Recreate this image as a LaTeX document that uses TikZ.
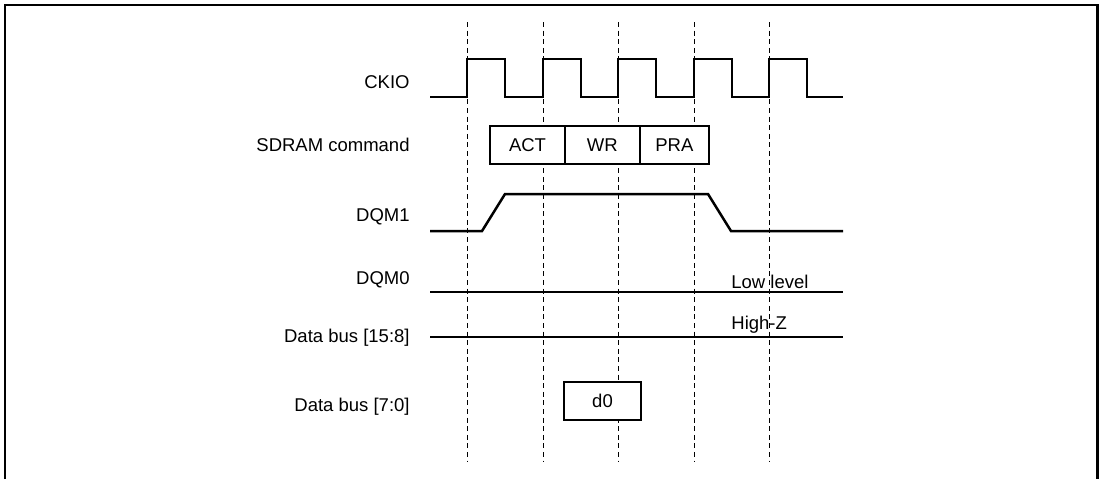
\documentclass[tikz,border=0pt]{standalone}
\usepackage{fontspec}
\setmainfont{Liberation Sans}
\usetikzlibrary{positioning}
\begin{document}
\begin{tikzpicture}[x=.5pt,y=-.5pt,font=\fontsize{9.25}{11}\selectfont,
sig/.style={line width=1.25pt},grid/.style={line width=.5pt,dash pattern=on 2.5pt off 1.8pt},
cmd/.style={draw,fill=white,line width=1.1pt,outer sep=0pt,inner sep=0pt,minimum height=19pt},lbl/.style={anchor=east,inner sep=0pt}]
\useasboundingbox(0,0)rectangle(1102,479);
\draw[line width=1.4pt](5,479)--(5,5)--(1097.5,5)--(1097.5,479);
\foreach\x in{467,543,618,694,769}\draw[grid](\x,22)--(\x,462);
\node[lbl](ckio)at(410,82){CKIO};\node[lbl](cmdl)at(410,145){SDRAM command};\node[lbl](dqmh)at(410,217){DQM1};
\node[lbl](dqml)at(410,280){DQM0};\node[lbl](dbh)at(410,338){Data bus [15:8]};\node[lbl](dbl)at(410,407){Data bus [7:0]};
\draw[sig](430,97)foreach\x in{467,543,618,694,769}{--(\x,97)--(\x,59)--(\x+38,59)--(\x+38,97)}--(843,97);
\node[cmd,minimum width=37.2pt](act)at(527.5,145){ACT};\node[cmd,minimum width=37.6pt,anchor=west](wr)at(act.east){WR};
\node[cmd,minimum width=34.5pt,anchor=west](pra)at(wr.east){PRA};
\draw[sig](430,231)--(482,231)--(505,194)--(708,194)--(731,231)--(843,231);
\draw[sig](430,292)--(843,292);\node[anchor=base west,inner sep=0pt](low)at(731,288){Low level};
\draw[sig](430,337)--(843,337);\node[anchor=base west,inner sep=0pt](hiz)at(731,329){High-Z};
\node[cmd,minimum width=38.5pt](d0)at(602.5,401){d0};
\end{tikzpicture}
\end{document}
